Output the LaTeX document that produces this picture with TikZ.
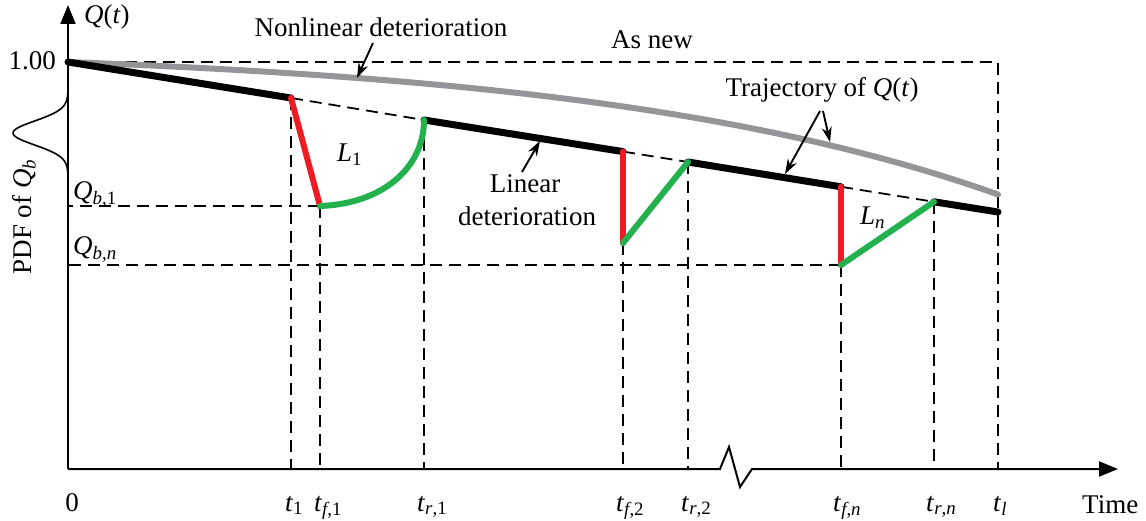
\documentclass[tikz,border=0pt]{standalone}
\usepackage{fontspec}
\setmainfont{Liberation Serif}
\usetikzlibrary{arrows.meta}
\definecolor{failred}{HTML}{ED1C24}
\definecolor{repgreen}{HTML}{22B14C}
\definecolor{nlgray}{HTML}{939598}
\newcommand\myit[1]{\textit{#1}}
\tikzset{
  dashline/.style={line width=1.8pt, dash pattern=on 12pt off 7pt},
  trajline/.style={line width=7pt, line cap=round, line join=round},
  fallline/.style={failred, line width=6pt, line cap=round},
  repline/.style={repgreen, line width=6pt, line cap=round},
  grayline/.style={nlgray, line width=6pt, line cap=round},
  ptr/.style={line width=1.9pt, -{Stealth[length=15pt,width=10pt]}},
  axisline/.style={line width=2pt, -{Triangle[length=19pt,width=15pt]}},
  lbl/.style={inner sep=0pt, anchor=base west},
  clbl/.style={inner sep=0pt, anchor=base}
}
\begin{document}
\begin{tikzpicture}[x=1pt,y=-1pt,font=\fontsize{27}{32}\selectfont]
\useasboundingbox (0,0) rectangle (1146,521);
% key points
\coordinate (O) at (68,469);
\coordinate (Ytop) at (68,5);
\coordinate (Xend) at (1118,469);
\coordinate (A0) at (68,62);
\coordinate (A1) at (291,98);
\coordinate (B1) at (320,206);
\coordinate (C1) at (424,120);
\coordinate (A2) at (623,151.6);
\coordinate (B2) at (623,243);
\coordinate (C2) at (688,162);
\coordinate (A3) at (841,186.8);
\coordinate (B3) at (841,265);
\coordinate (C3) at (934,201.8);
\coordinate (E) at (998,212);
\coordinate (N) at (998,62);
% dashed guide lines
\draw[dashline] (A0) -- (N) -- (N |- O);
\draw[dashline] (A1) -- (A1 |- O);
\draw[dashline] (B1) -- (B1 |- O);
\draw[dashline] (C1) -- (C1 |- O);
\draw[dashline] (B2) -- (B2 |- O);
\draw[dashline] (C2) -- (C2 |- O);
\draw[dashline] (B3) -- (B3 |- O);
\draw[dashline] (C3) -- (C3 |- O);
\draw[dashline] (B1) -- (B1 -| O);
\draw[dashline] (B3) -- (B3 -| O);
\draw[dashline] (A1) -- (C1);
\draw[dashline] (A2) -- (C2);
\draw[dashline] (A3) -- (C3);
% axes
\draw[axisline] (O) -- (Ytop);
\draw[axisline] (O) -- (720,469) -- (729,447) -- (740,487) -- (752,469) -- (Xend);
% PDF bell
\draw[line width=1.6pt] plot[domain=90:176, samples=70] ({68-55*exp(-((\x-133)*(\x-133))/288)}, \x);
% nonlinear curve
\draw[grayline] plot[domain=0:930, samples=80] ({68+\x},{62+16*(exp(0.0024*\x)-1)});
% trajectory
\draw[trajline] (A0) -- (A1);
\draw[trajline] (C1) -- (A2);
\draw[trajline] (C2) -- (A3);
\draw[trajline] (C3) -- (E);
\draw[fallline] (A1) -- (B1);
\draw[fallline] (A2) -- (B2);
\draw[fallline] (A3) -- (B3);
\draw[repline] (B1) .. controls (382,204) and (424,168) .. (C1);
\draw[repline] (B2) -- (C2);
\draw[repline] (B3) -- (C3);
% labels
\node[lbl] (qt) at (84,24) {\myit{Q}(\myit{t})};
\node[anchor=east, inner sep=0pt] (one) at (56,61) {1.00};
\node[rotate=90] (pdf) at (24,217) {PDF of \myit{Q}\textsubscript{\myit{b}}};
\node[lbl] (qb1) at (73,200) {\myit{Q}\textsubscript{\myit{b},1}};
\node[lbl] (qbn) at (73,255) {\myit{Q}\textsubscript{\myit{b},\myit{n}}};
\node[clbl] (nl) at (381,37) {Nonlinear deterioration};
\node[clbl] (asnew) at (652,49) {As new};
\node[clbl] (traj) at (822,97) {Trajectory of \myit{Q}(\myit{t})};
\node[clbl] (lin1) at (525,193) {Linear};
\node[clbl] (lin2) at (527,226) {deterioration};
\node[lbl] (l1) at (337,162) {\myit{L}\textsubscript{1}};
\node[lbl] (ln) at (860,225) {\myit{L}\textsubscript{\myit{n}}};
% pointer arrows
\coordinate (nlt) at (373,43);
\coordinate (nlh) at (357,78);
\draw[ptr] (nlt) -- (nlh);
\coordinate (lint) at (522,172);
\coordinate (linh) at (540,141);
\draw[ptr] (lint) -- (linh);
\coordinate (trt1) at (820,111);
\coordinate (trh1) at (785,174);
\coordinate (trt2) at (823,111);
\coordinate (trh2) at (830,142);
\draw[ptr] (trt1) -- (trh1);
\draw[ptr] (trt2) -- (trh2);
% time axis labels
\node[clbl] (zero) at (72,511) {0};
\node[lbl] (t1) at (285,511) {\myit{t}\textsubscript{1}};
\node[lbl] (tf1) at (314,511) {\myit{t}\textsubscript{\myit{f},1}};
\node[lbl] (tr1) at (417,511) {\myit{t}\textsubscript{\myit{r},1}};
\node[lbl] (tf2) at (616,511) {\myit{t}\textsubscript{\myit{f},2}};
\node[lbl] (tr2) at (681,511) {\myit{t}\textsubscript{\myit{r},2}};
\node[lbl] (tfn) at (833,511) {\myit{t}\textsubscript{\myit{f},\myit{n}}};
\node[lbl] (trn) at (926,511) {\myit{t}\textsubscript{\myit{r},\myit{n}}};
\node[lbl] (tl) at (993,511) {\myit{t}\textsubscript{\myit{l}}};
\node[lbl] (time) at (1082,513) {Time};
\end{tikzpicture}
\end{document}
